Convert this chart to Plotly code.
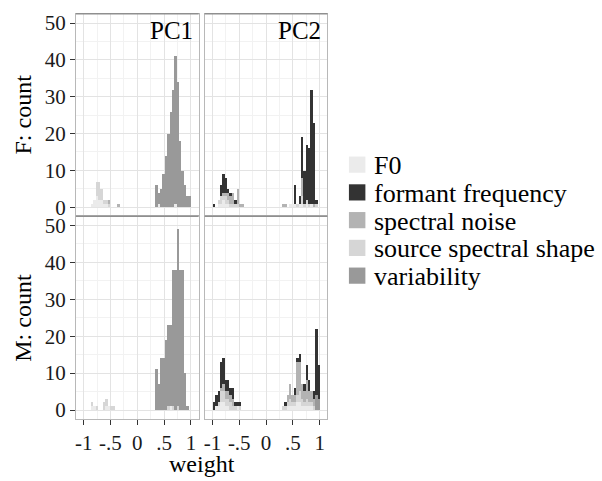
import plotly.graph_objects as go

# histogram bins: edges at -1 + k * width
BIN_START = -1.0
BIN_WIDTH = 2 / 45

categories = ["F0", "formant frequency", "spectral noise", "source spectral shape", "variability"]
fills = ["#EBEBEB", "#333333", "#B3B3B3", "#D6D6D6", "#999999"]
# bottom -> top order of the stacked bars
stack_order = ["F0", "source spectral shape", "spectral noise", "variability", "formant frequency"]

x_tickvals = [-1, -0.5, 0, 0.5, 1]
x_ticktext = ["-1", "-.5", "0", ".5", "1"]
x_minor = [-0.75, -0.25, 0.25, 0.75]
y_tickvals = [0, 10, 20, 30, 40, 50]
y_minor = [5, 15, 25, 35, 45]

row_labels = ["F: count", "M: count"]
col_labels = ["PC1", "PC2"]

# ---- F, PC1 (bin index, count)
f_pc1_f0_bin = [3, 4, 5, 6, 7, 8, 9, 31, 38]
f_pc1_f0_n = [1, 2, 3, 2, 2, 1, 1, 1, 1]
f_pc1_source_bin = [5, 6, 7, 8, 9, 10]
f_pc1_source_n = [4, 5, 3, 1, 1, 1]
f_pc1_noise_bin = [10, 14]
f_pc1_noise_n = [1, 1]
f_pc1_var_bin = [30, 31, 32, 33, 34, 35, 36, 37, 38, 39, 40, 41, 42, 43, 44]
f_pc1_var_n = [6, 3, 5, 9, 14, 20, 26, 32, 40, 34, 18, 10, 6, 3, 3]
f_pc1_formant_bin = []
f_pc1_formant_n = []

# ---- F, PC2
f_pc2_f0_bin = [2, 3, 4, 5, 6, 32, 33, 34, 36, 37, 39, 41]
f_pc2_f0_n = [1, 1, 2, 1, 1, 1, 1, 1, 1, 1, 1, 1]
f_pc2_source_bin = [2, 3, 4, 5, 6, 7, 8, 9, 10, 35, 37, 38, 39, 40, 43]
f_pc2_source_n = [1, 2, 1, 2, 1, 1, 1, 1, 1, 1, 2, 1, 1, 1, 1]
f_pc2_noise_bin = [4, 5, 6, 7, 8, 10, 11, 12, 29, 30, 37, 42]
f_pc2_noise_n = [1, 1, 2, 2, 3, 4, 1, 1, 1, 1, 5, 1]
f_pc2_var_bin = []
f_pc2_var_n = []
f_pc2_formant_bin = [0, 3, 4, 5, 6, 7, 9, 34, 36, 37, 38, 39, 40, 41, 42, 43]
f_pc2_formant_n = [1, 3, 5, 4, 1, 1, 1, 5, 2, 11, 9, 15, 15, 31, 22, 1]

# ---- M, PC1
m_pc1_f0_bin = [3, 4, 9, 10, 36]
m_pc1_f0_n = [1, 1, 1, 1, 1]
m_pc1_source_bin = [3, 5, 8, 9, 11, 12, 35, 37, 39]
m_pc1_source_n = [1, 1, 2, 2, 1, 1, 1, 1, 1]
m_pc1_noise_bin = []
m_pc1_noise_n = []
m_pc1_var_bin = [30, 31, 32, 33, 34, 35, 36, 37, 38, 39, 40, 41, 42, 43]
m_pc1_var_n = [11, 7, 14, 14, 19, 22, 22, 37, 38, 48, 38, 38, 10, 1]
m_pc1_formant_bin = []
m_pc1_formant_n = []

# ---- M, PC2
m_pc2_f0_bin = [1, 2, 3, 4, 5, 6, 10, 31, 32, 33, 34, 35, 36, 37, 38, 39, 40, 41]
m_pc2_f0_n = [1, 1, 2, 2, 1, 1, 1, 1, 1, 1, 1, 2, 2, 1, 1, 1, 1, 1]
m_pc2_source_bin = [2, 3, 4, 5, 6, 7, 8, 9, 11, 29, 30, 31, 32, 33, 34, 35, 36, 37, 38, 39, 40, 41, 42]
m_pc2_source_n = [1, 3, 3, 2, 2, 2, 1, 1, 1, 1, 1, 1, 2, 1, 1, 2, 3, 2, 1, 2, 1, 1, 1]
m_pc2_noise_bin = [3, 4, 5, 6, 7, 8, 31, 32, 33, 34, 35, 36, 37, 38, 39, 40, 41, 42]
m_pc2_noise_n = [1, 2, 2, 2, 2, 2, 2, 4, 2, 2, 9, 8, 4, 3, 5, 3, 3, 2]
m_pc2_var_bin = [43, 44]
m_pc2_var_n = [4, 3]
m_pc2_formant_bin = [0, 1, 2, 3, 4, 5, 6, 7, 8, 9, 10, 11, 30, 34, 35, 36, 38, 39, 40, 42, 43, 44]
m_pc2_formant_n = [2, 3, 3, 7, 7, 3, 3, 2, 3, 1, 1, 1, 1, 2, 1, 2, 2, 4, 3, 2, 18, 9]

panels = [
    # (row, col, series)
    (0, 0, {"F0": (f_pc1_f0_bin, f_pc1_f0_n), "source spectral shape": (f_pc1_source_bin, f_pc1_source_n),
            "spectral noise": (f_pc1_noise_bin, f_pc1_noise_n), "variability": (f_pc1_var_bin, f_pc1_var_n),
            "formant frequency": (f_pc1_formant_bin, f_pc1_formant_n)}),
    (0, 1, {"F0": (f_pc2_f0_bin, f_pc2_f0_n), "source spectral shape": (f_pc2_source_bin, f_pc2_source_n),
            "spectral noise": (f_pc2_noise_bin, f_pc2_noise_n), "variability": (f_pc2_var_bin, f_pc2_var_n),
            "formant frequency": (f_pc2_formant_bin, f_pc2_formant_n)}),
    (1, 0, {"F0": (m_pc1_f0_bin, m_pc1_f0_n), "source spectral shape": (m_pc1_source_bin, m_pc1_source_n),
            "spectral noise": (m_pc1_noise_bin, m_pc1_noise_n), "variability": (m_pc1_var_bin, m_pc1_var_n),
            "formant frequency": (m_pc1_formant_bin, m_pc1_formant_n)}),
    (1, 1, {"F0": (m_pc2_f0_bin, m_pc2_f0_n), "source spectral shape": (m_pc2_source_bin, m_pc2_source_n),
            "spectral noise": (m_pc2_noise_bin, m_pc2_noise_n), "variability": (m_pc2_var_bin, m_pc2_var_n),
            "formant frequency": (m_pc2_formant_bin, m_pc2_formant_n)}),
]

W, H = 602, 481
FONT = "Liberation Serif"
fill_of = dict(zip(categories, fills))

# panel boxes in pixels
col_px = [(75, 198), (204, 327)]
row_px = [(12, 216), (217, 422.5)]
row_yrange = [[-2.2, 52.5], [-2.5, 52.5]]

fig = go.Figure()

for row, col, series in panels:
    idx = row * 2 + col + 1
    suffix = "" if idx == 1 else str(idx)
    for cat in stack_order:
        bins, counts = series[cat]
        if not bins:
            continue
        centers = [BIN_START + (k + 0.5) * BIN_WIDTH for k in bins]
        fig.add_trace(go.Bar(
            x=centers, y=counts, width=BIN_WIDTH,
            name=cat, marker=dict(color=fill_of[cat], line=dict(width=0)),
            xaxis="x" + suffix, yaxis="y" + suffix, showlegend=False,
        ))

    x0, x1 = col_px[col]
    top, bottom = row_px[row]
    xaxis = dict(
        domain=[x0 / W, x1 / W], range=[-1.145, 1.145], anchor="y" + suffix,
        tickmode="array", tickvals=x_tickvals, ticktext=x_ticktext,
        showticklabels=(row == 1), ticks="outside" if row == 1 else "",
        ticklen=5, tickcolor="#333333", tickfont=dict(size=21, color="#1a1a1a"),
        showgrid=True, gridcolor="#e3e3e3", gridwidth=1, zeroline=False,
        minor=dict(tickmode="array", tickvals=x_minor, showgrid=True, gridcolor="#f2f2f2", ticks=""),
        showline=True, mirror=True, linecolor="#b8b8b8", linewidth=1,
    )
    yaxis = dict(
        domain=[1 - bottom / H, 1 - top / H], range=row_yrange[row], anchor="x" + suffix,
        tickmode="array", tickvals=y_tickvals,
        showticklabels=(col == 0), ticks="outside" if col == 0 else "",
        ticklen=5, tickcolor="#333333", tickfont=dict(size=21, color="#1a1a1a"),
        showgrid=True, gridcolor="#e3e3e3", gridwidth=1, zeroline=False,
        minor=dict(tickmode="array", tickvals=y_minor, showgrid=True, gridcolor="#f2f2f2", ticks=""),
        showline=True, mirror=True, linecolor="#b8b8b8", linewidth=1,
    )
    fig.update_layout(**{"xaxis" + suffix: xaxis, "yaxis" + suffix: yaxis})

    # darker top edge of each panel
    fig.add_shape(type="line", xref="paper", yref="paper",
                  x0=x0 / W, x1=x1 / W, y0=1 - top / H, y1=1 - top / H,
                  line=dict(color="#8f8f8f", width=1.5))

annotations = []
# column strip labels inside the top panels
for col, label in enumerate(col_labels):
    annotations.append(dict(
        text=label, x=(col_px[col][1] - 4) / W, y=1 - 29 / H, xref="paper", yref="paper",
        xanchor="right", yanchor="middle", showarrow=False,
        font=dict(size=25, color="#000000", family=FONT)))

# row axis titles
for row, label in enumerate(row_labels):
    top, bottom = row_px[row]
    annotations.append(dict(
        text=label, x=22 / W, y=1 - (top + bottom) / 2 / H, xref="paper", yref="paper",
        xanchor="center", yanchor="middle", textangle=-90, showarrow=False,
        font=dict(size=24, color="#000000", family=FONT)))

annotations.append(dict(
    text="weight", x=201 / W, y=1 - 468 / H, xref="paper", yref="paper",
    xanchor="center", yanchor="middle", showarrow=False,
    font=dict(size=24, color="#000000", family=FONT)))

# legend drawn by hand so that the row spacing matches
for i, cat in enumerate(categories):
    yc = 164.7 + 28.1 * i
    fig.add_shape(type="rect", xref="paper", yref="paper",
                  x0=348.5 / W, x1=365 / W, y0=1 - (yc + 8.2) / H, y1=1 - (yc - 8.2) / H,
                  fillcolor=fill_of[cat], line=dict(width=0))
    annotations.append(dict(
        text=cat, x=372 / W, y=1 - (yc + 1) / H, xref="paper", yref="paper",
        xanchor="left", yanchor="middle", showarrow=False,
        font=dict(size=26, color="#000000", family=FONT)))

fig.update_layout(
    width=W, height=H,
    margin=dict(l=0, r=0, t=0, b=0),
    barmode="stack", bargap=0,
    plot_bgcolor="white", paper_bgcolor="white",
    showlegend=False,
    font=dict(family=FONT, color="#1a1a1a"),
    annotations=annotations,
)

# the page body has a default 8px margin; drop it so the figure fills the window
fig.write_html("out.html", config={"displayModeBar": False},
               post_script="document.body.style.margin='0px';")
